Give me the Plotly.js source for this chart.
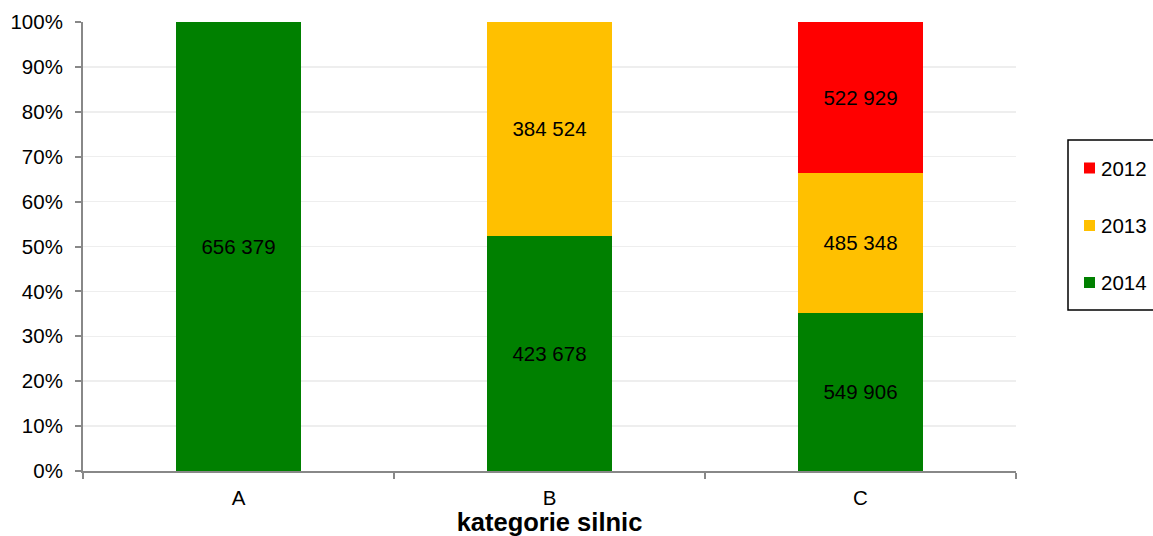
<!DOCTYPE html>
<html>
<head>
<meta charset="utf-8">
<script src="https://cdn.plot.ly/plotly-3.0.1.min.js"></script>
<style>html,body{margin:0;padding:0;background:#fff;}#chart{width:1153px;height:536px;}</style>
</head>
<body>
<div id="chart"></div>
<script>
var categories = ['A', 'B', 'C'];
var years = ['2014', '2013', '2012'];
var values2014 = [656379, 423678, 549906];
var values2013 = [null, 384524, 485348];
var values2012 = [null, null, 522929];
var colors = ['#008000', '#FFC000', '#FF0000'];

function fmt(v) {
  if (v === null) return '';
  return String(v).replace(/\B(?=(\d{3})+(?!\d))/g, ' ');
}

var series = [values2014, values2013, values2012];
var traces = series.map(function (vals, i) {
  return {
    type: 'bar',
    name: years[i],
    x: categories,
    y: vals,
    text: vals.map(fmt),
    textposition: 'inside',
    insidetextanchor: 'middle',
    constraintext: 'none',
    textfont: {family: 'Liberation Sans, Arial, sans-serif', size: 20.5, color: '#000'},
    marker: {color: colors[i], line: {width: 0}},
    width: 0.4,
    showlegend: false,
    hoverinfo: 'none'
  };
});

// plot area geometry (pixels) for placing the legend box
var L = 83, R = 1016, T = 22, B = 471;
function px(x) { return (x - L) / (R - L); }
function py(y) { return (B - y) / (B - T); }

var shapes = [{
  type: 'rect', xref: 'paper', yref: 'paper',
  x0: px(1068), x1: px(1170), y0: py(310), y1: py(140),
  line: {color: '#000', width: 1.5}, fillcolor: '#fff', layer: 'above'
}];
var annotations = [];
var legendRowY = [282.5, 225.5, 168]; // order follows years array (2014, 2013, 2012)
years.forEach(function (yr, i) {
  var cy = legendRowY[i];
  shapes.push({
    type: 'rect', xref: 'paper', yref: 'paper',
    x0: px(1084), x1: px(1095), y0: py(cy + 5.5), y1: py(cy - 5.5),
    line: {width: 0}, fillcolor: colors[i], layer: 'above'
  });
  annotations.push({
    xref: 'paper', yref: 'paper', x: px(1099), y: py(cy),
    xanchor: 'left', yanchor: 'middle', showarrow: false,
    text: yr, font: {size: 20.5, color: '#000'}
  });
});

var layout = {
  width: 1153,
  height: 536,
  margin: {l: 83, r: 137, t: 22, b: 65, autoexpand: false},
  paper_bgcolor: '#fff',
  plot_bgcolor: '#fff',
  barmode: 'stack',
  barnorm: 'percent',
  showlegend: false,
  font: {family: 'Liberation Sans, Arial, sans-serif', size: 20.5, color: '#000'},
  xaxis: {
    type: 'category',
    range: [-0.5, 2.5],
    showline: true,
    linecolor: '#888',
    linewidth: 2,
    ticks: 'outside',
    tickson: 'boundaries',
    ticklen: 6,
    tickcolor: '#888',
    tickwidth: 2,
    showgrid: false,
    ticklabelstandoff: 7,
    tickfont: {size: 20.5},
    title: {text: 'kategorie silnic', font: {size: 25.5, color: '#000', weight: 'bold'}, standoff: 5}
  },
  yaxis: {
    range: [0, 100],
    dtick: 10,
    ticksuffix: '%',
    showline: true,
    linecolor: '#888',
    linewidth: 2,
    ticks: 'outside',
    ticklen: 6,
    tickcolor: '#888',
    tickwidth: 2,
    showgrid: true,
    gridcolor: '#eeeeee',
    gridwidth: 1.5,
    zeroline: false,
    ticklabelstandoff: 8,
    tickfont: {size: 20.5}
  },
  shapes: shapes,
  annotations: annotations
};

Plotly.newPlot('chart', traces, layout, {displayModeBar: false, staticPlot: true});
</script>
</body>
</html>
